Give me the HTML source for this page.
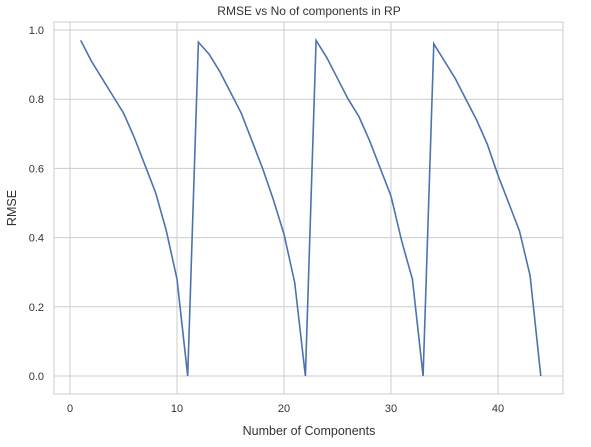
<!DOCTYPE html>
<html><head><meta charset="utf-8"><style>
html,body{margin:0;padding:0;background:#fff;}
svg text{font-family:"Liberation Sans","DejaVu Sans",sans-serif;fill:#333;}
</style></head><body>
<svg id="chart" width="591" height="442" viewBox="0 0 591 442">
<rect x="0" y="0" width="591" height="442" fill="#fff"/>
<text x="309" y="15" font-size="12" text-anchor="middle">RMSE vs No of components in RP</text>
<g id="grid"></g>
<rect x="54" y="22" width="509" height="372" fill="none" stroke="#cccccc" stroke-width="1"/>
<g id="ticks"></g>
<path id="line" fill="none" stroke="#4c72b0" stroke-width="1.6"/>
<text x="309" y="435" font-size="12.5" text-anchor="middle">Number of Components</text>
<text x="16" y="208" font-size="12.5" text-anchor="middle" transform="rotate(-90 16 208)">RMSE</text>
</svg>
<script>
const xValues = [1,2,3,4,5,6,7,8,9,10,11,12,13,14,15,16,17,18,19,20,21,22,23,24,25,26,27,28,29,30,31,32,33,34,35,36,37,38,39,40,41,42,43,44];
const rmseValues = [0.97,0.91,0.86,0.81,0.76,0.69,0.61,0.53,0.42,0.28,0.0,
 0.965,0.93,0.88,0.82,0.76,0.68,0.60,0.51,0.41,0.27,0.0,
 0.97,0.92,0.86,0.80,0.75,0.68,0.60,0.52,0.39,0.28,0.0,
 0.96,0.91,0.86,0.80,0.74,0.67,0.58,0.50,0.42,0.29,0.0];
const xTicks = [0,10,20,30,40];
const yTicks = [0.0,0.2,0.4,0.6,0.8,1.0];
const xs = v => 70 + v*10.7;
const ys = v => 376 - v*346;
const NS='http://www.w3.org/2000/svg';
const grid=document.getElementById('grid'), ticks=document.getElementById('ticks');
xTicks.forEach(t=>{
  const l=document.createElementNS(NS,'line');
  l.setAttribute('x1',xs(t));l.setAttribute('x2',xs(t));l.setAttribute('y1',22);l.setAttribute('y2',394);
  l.setAttribute('stroke','#cccccc');
  
  
  grid.appendChild(l);
  const tx=document.createElementNS(NS,'text');
  tx.setAttribute('x',xs(t));tx.setAttribute('y',412);tx.setAttribute('font-size','11');tx.setAttribute('text-anchor','middle');
  tx.textContent=t;
  
  
  ticks.appendChild(tx);
});
yTicks.forEach(t=>{
  const l=document.createElementNS(NS,'line');
  l.setAttribute('x1',54);l.setAttribute('x2',563);l.setAttribute('y1',ys(t));l.setAttribute('y2',ys(t));
  l.setAttribute('stroke','#cccccc');
  
  
  grid.appendChild(l);
  const tx=document.createElementNS(NS,'text');
  tx.setAttribute('x',44);tx.setAttribute('y',ys(t)+4);tx.setAttribute('font-size','11');tx.setAttribute('text-anchor','end');
  tx.textContent=t.toFixed(1);
  
  
  ticks.appendChild(tx);
});
document.getElementById('line').setAttribute('d',xValues.map((x,i)=>(i?'L':'M')+xs(x)+' '+ys(rmseValues[i])).join(' '));
</script>
</body></html>
